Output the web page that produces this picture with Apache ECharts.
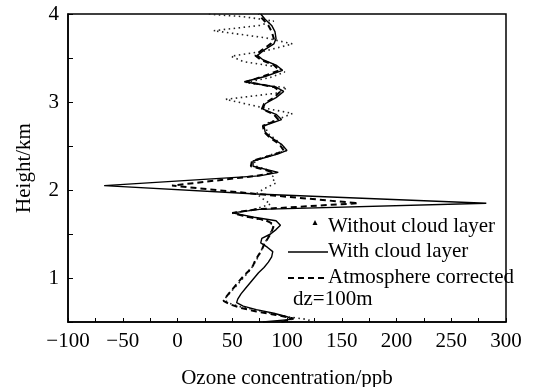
<!DOCTYPE html>
<html>
<head>
<meta charset="utf-8">
<script src="https://cdn.jsdelivr.net/npm/echarts@6/dist/echarts.min.js"></script>
<style>
  html, body { margin: 0; padding: 0; background: #fff; }
  #chart { width: 536px; height: 387px; }
</style>
</head>
<body>
<div id="chart"></div>
<script>
// heights (km) and ozone (ppb)
const hWith = [0.50, 0.53, 0.56, 0.60, 0.64, 0.68, 0.72, 0.76, 0.82, 0.88, 0.94, 1.00, 1.06, 1.12, 1.18, 1.24, 1.30, 1.35, 1.40, 1.45, 1.50, 1.55, 1.60, 1.65, 1.69, 1.74, 1.78, 1.85, 1.955, 2.05, 2.16, 2.20, 2.27, 2.33, 2.41, 2.45, 2.52, 2.60, 2.66, 2.73, 2.80, 2.86, 2.92, 2.98, 3.05, 3.12, 3.17, 3.23, 3.29, 3.36, 3.42, 3.48, 3.53, 3.59, 3.66, 3.72, 3.80, 3.87, 3.94, 4.00];
const vWith = [78, 104, 100, 88, 72, 60, 54, 55, 58, 62, 66, 70, 74, 79, 83, 86, 87, 82, 76, 77, 85, 90, 94, 90, 70, 50, 75, 282, 72, -67, 75, 92, 69, 69, 92, 100, 95, 85, 80, 79, 95, 90, 78, 80, 90, 97, 90, 61, 80, 96, 90, 78, 73, 79, 88, 90, 89, 86, 80, 76];

const hCorr = [0.50, 0.54, 0.58, 0.62, 0.66, 0.70, 0.74, 0.78, 0.84, 0.90, 0.96, 1.02, 1.08, 1.14, 1.20, 1.26, 1.32, 1.38, 1.44, 1.50, 1.56, 1.61, 1.66, 1.70, 1.74, 1.78, 1.85, 1.955, 2.05, 2.16, 2.20, 2.27, 2.33, 2.41, 2.45, 2.52, 2.60, 2.66, 2.73, 2.80, 2.86, 2.92, 2.98, 3.05, 3.12, 3.17, 3.23, 3.29, 3.36, 3.42, 3.48, 3.53, 3.59, 3.66, 3.72, 3.80, 3.87, 3.94, 4.00];
const vCorr = [95, 106, 90, 72, 58, 48, 42, 44, 48, 52, 56, 60, 65, 69, 71, 74, 77, 79, 82, 85, 87, 88, 80, 62, 50, 72, 165, 72, -5, 72, 88, 67, 68, 90, 97, 93, 84, 79, 78, 92, 88, 77, 79, 88, 94, 88, 63, 78, 93, 88, 76, 71, 77, 85, 88, 86, 83, 78, 74];

const hNoCloud = [0.50, 0.53, 0.56, 0.60, 0.64, 0.68, 0.72, 0.76, 0.82, 0.90, 1.00, 1.10, 1.20, 1.30, 1.40, 1.50, 1.58, 1.64, 1.70, 1.74, 1.78, 1.84, 1.90, 1.96, 2.02, 2.08, 2.14, 2.20, 2.27, 2.33, 2.40, 2.45, 2.55, 2.65, 2.75, 2.82, 2.87, 2.93, 3.03, 3.10, 3.16, 3.22, 3.28, 3.34, 3.40, 3.46, 3.52, 3.58, 3.66, 3.73, 3.81, 3.87, 3.92, 3.97, 4.00];
const vNoCloud = [125, 118, 100, 85, 70, 55, 46, 43, 47, 53, 60, 67, 72, 76, 80, 84, 88, 84, 62, 52, 70, 85, 78, 72, 80, 90, 86, 90, 72, 70, 85, 100, 92, 82, 80, 95, 105, 80, 44, 90, 100, 62, 85, 98, 90, 60, 49, 80, 105, 80, 33, 75, 88, 60, 27];

const legendNames = ['Without cloud layer', 'With cloud layer', 'Atmosphere corrected'];

const pairs = (hs, vs) => hs.map((h, i) => [vs[i], h]);
const minus = v => (v < 0 ? '\u2212' + Math.abs(v) : String(v));
const font = 'Liberation Serif';

const chart = echarts.init(document.getElementById('chart'));

chart.setOption({
    animation: false,
    backgroundColor: '#fff',
    grid: {
        left: 68, right: 30, top: 14, bottom: 65,
        outerBoundsMode: 'none',
        show: true, borderColor: '#000', borderWidth: 1.5
    },
    xAxis: {
        type: 'value',
        min: -100, max: 300, interval: 50,
        name: 'Ozone concentration/ppb',
        nameLocation: 'middle', nameGap: 46,
        nameTextStyle: { fontFamily: font, fontSize: 21, color: '#000' },
        axisLine: { onZero: false, lineStyle: { color: '#000', width: 1.5 } },
        axisTick: { inside: true, length: 4, lineStyle: { color: '#000' } },
        minorTick: { show: true, splitNumber: 2, length: 4, lineStyle: { color: '#000' } },
        axisLabel: { formatter: minus, fontFamily: font, fontSize: 21, color: '#000', margin: 9 },
        splitLine: { show: false }
    },
    yAxis: {
        type: 'value',
        min: 0.5, max: 4, interval: 0.5,
        name: 'Height/km',
        nameLocation: 'middle', nameGap: 33,
        nameTextStyle: { fontFamily: font, fontSize: 21, color: '#000' },
        axisLine: { onZero: false, lineStyle: { color: '#000', width: 1.5 } },
        axisTick: { inside: true, length: 5, lineStyle: { color: '#000' } },
        axisLabel: {
            formatter: v => (Number.isInteger(v) ? String(v) : ''),
            fontFamily: font, fontSize: 21, color: '#000', margin: 9
        },
        splitLine: { show: false }
    },
    series: [
        {
            name: legendNames[0], type: 'line', symbol: 'none',
            data: pairs(hNoCloud, vNoCloud),
            lineStyle: { color: '#222', width: 1.6, type: [1.5, 3.5] }
        },
        {
            name: legendNames[1], type: 'line', symbol: 'none',
            data: pairs(hWith, vWith),
            lineStyle: { color: '#000', width: 1.4 }
        },
        {
            name: legendNames[2], type: 'line', symbol: 'none',
            data: pairs(hCorr, vCorr),
            lineStyle: { color: '#000', width: 2, type: [6, 4] }
        }
    ],
    graphic: [
        { type: 'polygon', shape: { points: [[315, 220], [317.5, 225], [312.5, 225]] }, style: { fill: '#000' } },
        { type: 'text', left: 328, top: 216, style: { text: legendNames[0], font: '21px ' + font, fill: '#000' } },
        { type: 'line', shape: { x1: 288, y1: 252, x2: 328, y2: 252 }, style: { stroke: '#000', lineWidth: 1.4 } },
        { type: 'text', left: 328, top: 241, style: { text: legendNames[1], font: '21px ' + font, fill: '#000' } },
        { type: 'line', shape: { x1: 288, y1: 278, x2: 328, y2: 278 }, style: { stroke: '#000', lineWidth: 2, lineDash: [6, 4] } },
        { type: 'text', left: 328, top: 267, style: { text: legendNames[2], font: '21px ' + font, fill: '#000' } },
        { type: 'text', left: 293, top: 289, style: { text: 'dz=100m', font: '21px ' + font, fill: '#000' } }
    ]
});
</script>
</body>
</html>
